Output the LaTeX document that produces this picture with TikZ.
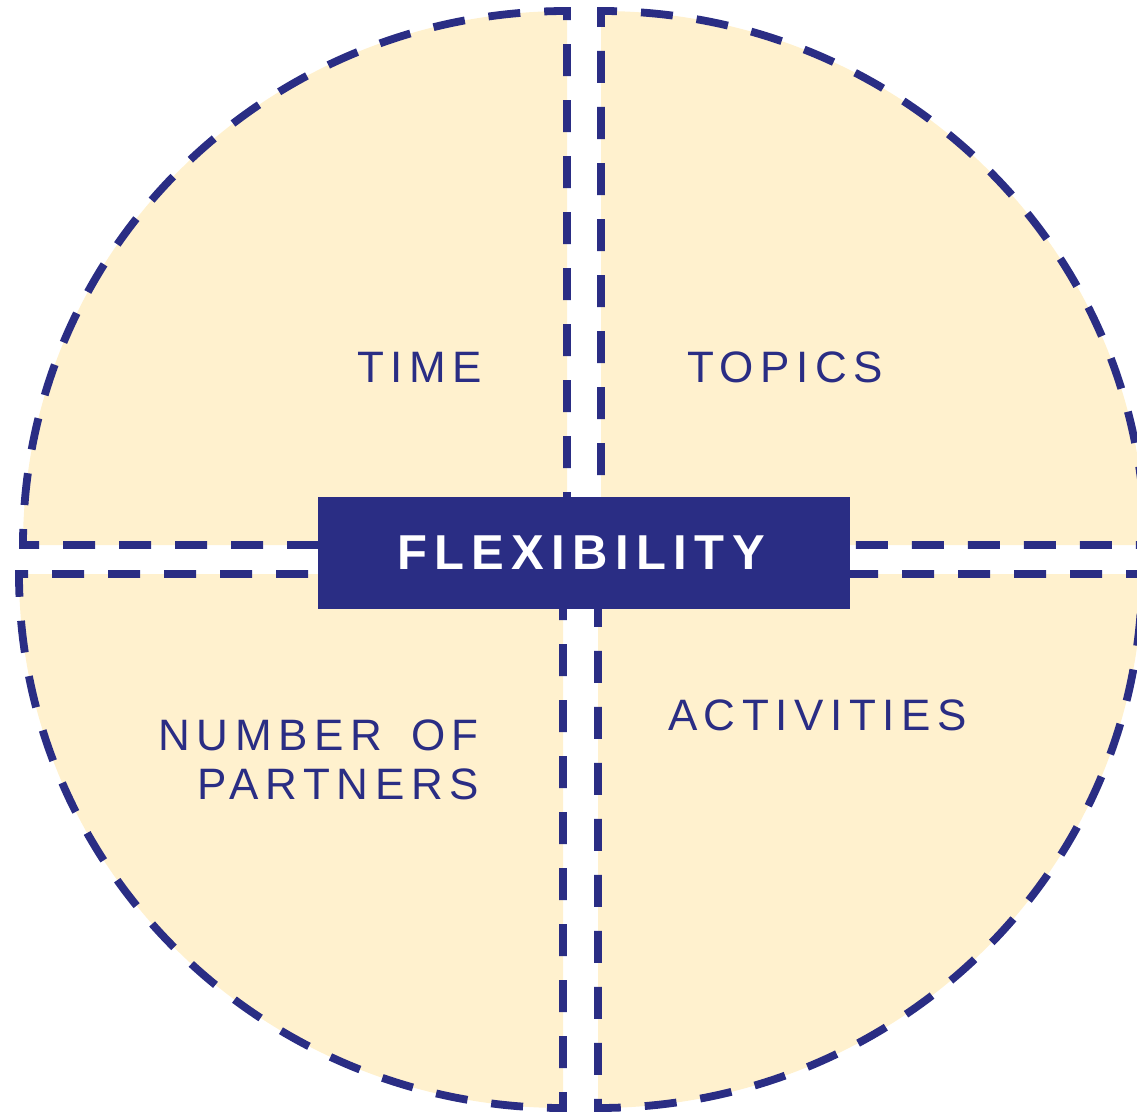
\documentclass[tikz,border=0pt]{standalone}
\usepackage{fontspec}
\setmainfont{Liberation Sans}
\newfontfamily\lblfont[LetterSpace=15]{Liberation Sans}
\newfontfamily\ttlfont[LetterSpace=15]{Liberation Sans}
\definecolor{navy}{RGB}{42,45,132}
\definecolor{cream}{RGB}{255,241,206}
\begin{document}
\begin{tikzpicture}[x=1pt,y=-1pt,
  quadrant/.style={fill=cream, draw=navy, line width=7.8pt, dash pattern=on 32pt off 24pt},
  lbl/.style={text=navy, inner sep=0pt, font=\lblfont\fontsize{44}{49}\selectfont},
  titlebox/.style={fill=navy, text=white, inner sep=0pt, minimum width=532pt, minimum height=112pt,
    font=\ttlfont\bfseries\fontsize{49}{55}\selectfont}]
\useasboundingbox (0,0) rectangle (1137,1113);
\clip (0,0) rectangle (1137,1113);
% top-left
\path[quadrant, dash phase=32pt] (567,545) -- (23,545)
  arc[start angle=180, end angle=270, x radius=544, y radius=534] -- cycle;
% top-right
\path[quadrant, dash phase=42pt] (601,545) -- (601,11)
  arc[start angle=270, end angle=360, x radius=544, y radius=534] -- cycle;
% bottom-left
\path[quadrant, dash phase=42pt] (563,574) -- (563,1108)
  arc[start angle=90, end angle=180, x radius=544, y radius=534] -- cycle;
% bottom-right
\path[quadrant, dash phase=32pt] (598,574) -- (1142,574)
  arc[start angle=0, end angle=90, x radius=544, y radius=534] -- cycle;
% centre
\node[titlebox] (flex) at (584,553) {\hspace*{-6pt}FLEXIBILITY};
% labels
\node[lbl] (time) at (419.5,367.5) {TIME};
\node[lbl] (topics) at (785,367.5) {TOPICS};
\node[lbl] (activities) at (817.5,715) {ACTIVITIES};
\node[lbl, align=right, anchor=north east] (partners) at (479,720) {NUMBER\hspace{10pt} OF\\PARTNERS};
\end{tikzpicture}
\end{document}
